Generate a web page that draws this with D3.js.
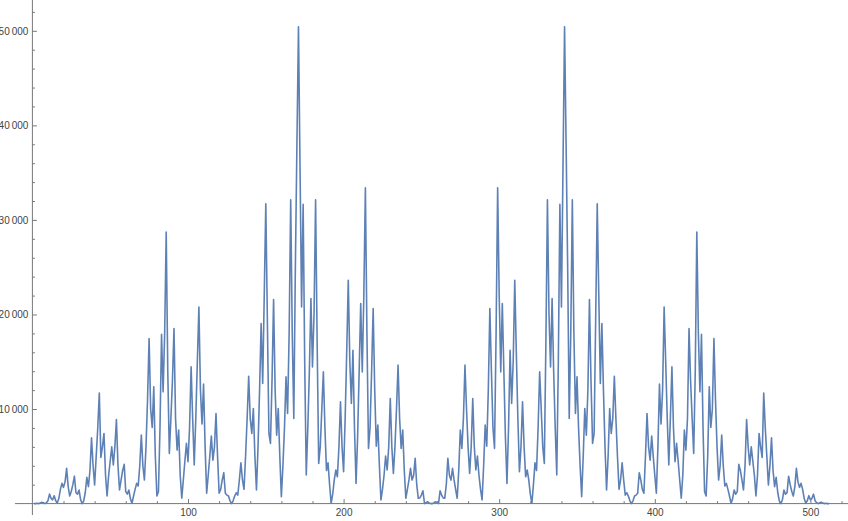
<!DOCTYPE html>
<html>
<head>
<meta charset="utf-8">
<script src="https://cdn.jsdelivr.net/npm/d3@7"></script>
<style>
  body { margin: 0; background: #fff; }
  svg { display: block; }
  .axisLine { stroke: #777; stroke-width: 1; }
  .tick line { stroke: #777; }
  .tick text { fill: #444; font-family: "Liberation Sans", Arial, sans-serif; font-size: 10px; }
</style>
</head>
<body>
<script>
//values, n = 1 .. 512 (left half)
var leftValues = [
  0,0,30,0,50,150,100,0,
  100,300,1000,560,400,840,300,50,
  560,1500,2140,1720,2300,3730,1800,800,
  1300,2000,2900,1150,1000,1430,400,0,
  300,1200,2770,1800,3500,6960,4000,1960,
  5000,8000,11700,4890,6000,7420,3000,800,
  3000,4500,6010,4080,6000,8900,4000,1440,
  2500,3500,4150,1260,1000,1440,500,30,
  800,1500,2140,1860,4000,7240,4000,2490,
  6000,11000,17450,10000,8060,12350,5000,800,
  1260,8000,17910,11820,18000,28710,14000,5310,
  9000,13000,18510,9000,5660,7770,3000,560,
  2500,4500,6370,4430,8000,14460,9000,4080,
  9000,15000,20790,12000,8410,12630,6000,1090,
  3000,5000,7140,4600,6000,9530,5000,1090,
  1500,2500,3270,1090,900,800,300,0,
  300,800,1150,900,2500,4320,2500,1510,
  5000,9000,13470,9000,7420,10060,5000,1440,
  6000,12000,19040,12700,22000,31710,19500,7420,
  6370,13000,21570,12000,7240,10060,5000,730,
  4000,8000,13400,9530,18000,32130,18000,9000,
  25000,38000,50430,35600,20790,31640,15000,3020,
  8000,14000,21680,14460,20000,32130,17000,4250,
  6000,10000,13930,8000,3500,4320,2000,30,
  1000,2500,3550,2840,6000,10760,6000,3370,
  9000,16000,23610,15000,10590,16220,8000,2140,
  7000,14000,21150,13930,22000,33400,18000,5840,
  8000,14000,20620,12000,6080,8300,4000,380,
  1500,3000,5030,3550,6000,11120,6000,3200,
  6000,10000,14640,9000,5840,7770,3500,560,
  1500,2500,3730,2490,3000,4780,2000,560,
  600,900,1360,0,100,200,50,0
];

//right half, n = 257 .. 512
var rightValues = [
  0,50,200,100,0,1360,900,600,
  560,2000,4780,3000,2490,3730,2500,1500,
  560,3500,7770,5840,9000,14640,10000,6000,
  3200,6000,11120,6000,3550,5030,3000,1500,
  380,4000,8300,6080,12000,20620,14000,8000,
  5840,18000,33400,22000,13930,21150,14000,7000,
  2140,8000,16220,10590,15000,23610,16000,9000,
  3370,6000,10760,6000,2840,3550,2500,1000,
  30,2000,4320,3500,8000,13930,10000,6000,
  4250,17000,32130,20000,14460,21680,14000,8000,
  3020,15000,31640,20790,35600,50430,38000,25000,
  9000,18000,32130,18000,9530,13400,8000,4000,
  730,5000,10060,7240,12000,21570,13000,6370,
  7420,19500,31710,22000,12700,19040,12000,6000,
  1440,5000,10060,7420,9000,13470,9000,5000,
  1510,2500,4320,2500,900,1150,800,300,
  0,300,800,900,1090,3270,2500,1500,
  1090,5000,9530,6000,4600,7140,5000,3000,
  1090,6000,12630,8410,12000,20790,15000,9000,
  4080,9000,14460,8000,4430,6370,4500,2500,
  560,3000,7770,5660,9000,18510,13000,9000,
  5310,14000,28710,18000,11820,17910,8000,1260,
  800,5000,12350,8060,10000,17450,11000,6000,
  2490,4000,7240,4000,1860,2140,1500,800,
  30,500,1440,1000,1260,4150,3500,2500,
  1440,4000,8900,6000,4080,6010,4500,3000,
  800,3000,7420,6000,4890,11700,8000,5000,
  1960,4000,6960,3500,1800,2770,1200,300,
  0,400,1430,1000,1150,2900,2000,1300,
  800,1800,3730,2300,1720,2140,1500,560,
  50,300,840,400,560,1000,300,100,
  0,100,150,50,0,30,0,0
];

var xMajorTicks = [100, 200, 300, 400, 500];
var xMinorTicks = [20, 40, 60, 80, 120, 140, 160, 180, 220, 240, 260, 280, 320, 340, 360, 380, 420, 440, 460, 480, 520];
var yMajorTicks = [10000, 20000, 30000, 40000, 50000];
var yMinorTicks = [2000, 4000, 6000, 8000, 12000, 14000, 16000, 18000, 22000, 24000, 26000, 28000,
                   32000, 34000, 36000, 38000, 42000, 44000, 46000, 48000, 52000];

window.onload = drawChart();

function drawChart(){

    var width = 848,
        height = 521;

    var values = leftValues.concat(rightValues);
    var points = values.map(function(v, i){ return [i + 1, v]; });

    var svg = d3.select("body")
        .append("svg")
        .attr("width", width)
        .attr("height", height);

    //scales: x 0 sits on the vertical axis, y 0 on the horizontal axis
    var x = d3.scaleLinear()
        .domain([0, 500])
        .range([32.4, 810.4]);

    var y = d3.scaleLinear()
        .domain([0, 50000])
        .range([503.6, 30.8]);

    //thin space as thousands separator, like the original
    var fmt = function(d){ return d3.format(",")(d).replace(/,/g, "\u2009"); };

    //minor ticks
    svg.append("g")
        .attr("transform", "translate(0," + y(0) + ")")
        .call(d3.axisBottom(x).tickValues(xMinorTicks).tickSize(-2.5).tickFormat(""))
        .select(".domain").remove();

    svg.append("g")
        .attr("transform", "translate(" + x(0) + ",0)")
        .call(d3.axisLeft(y).tickValues(yMinorTicks).tickSize(-2.5).tickFormat(""))
        .select(".domain").remove();

    //major ticks with labels
    var xAxis = svg.append("g")
        .attr("transform", "translate(0," + y(0) + ")")
        .call(d3.axisBottom(x).tickValues(xMajorTicks).tickSize(-4.5).tickPadding(5).tickFormat(fmt));
    xAxis.select(".domain").remove();

    var yAxis = svg.append("g")
        .attr("transform", "translate(" + x(0) + ",0)")
        .call(d3.axisLeft(y).tickValues(yMajorTicks).tickSize(-4.5).tickPadding(4).tickFormat(fmt));
    yAxis.select(".domain").remove();

    //axis lines run through the whole plot range
    svg.append("line")
        .attr("class", "axisLine")
        .attr("x1", 15).attr("x2", width)
        .attr("y1", y(0)).attr("y2", y(0));

    svg.append("line")
        .attr("class", "axisLine")
        .attr("x1", x(0)).attr("x2", x(0))
        .attr("y1", 0).attr("y2", 515);

    //the data line
    var line = d3.line()
        .x(function(d){ return x(d[0]); })
        .y(function(d){ return y(d[1]); });

    svg.append("path")
        .datum(points)
        .attr("fill", "none")
        .attr("stroke", "#5e81b5")
        .attr("stroke-width", 1.6)
        .attr("stroke-linejoin", "round")
        .attr("d", line);
};
</script>
</body>
</html>
